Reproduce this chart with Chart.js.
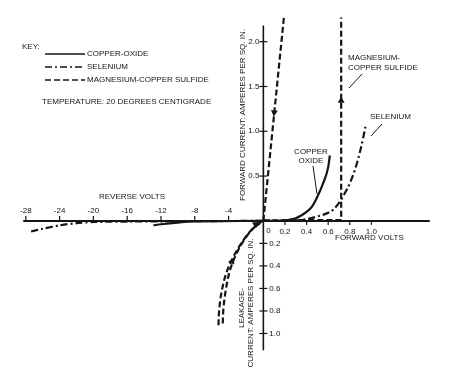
<!DOCTYPE html>
<html><head><meta charset="utf-8">
<script src="https://cdn.jsdelivr.net/npm/chart.js@4.4.1/dist/chart.umd.min.js"></script>
<style>html,body{margin:0;padding:0;background:#fff;}canvas{display:block}</style>
</head><body>
<canvas id="c" width="455" height="383"></canvas>
<script>
// ---------- data ----------
const copperOxideFwdVolts   = [0, 0.15, 0.2, 0.25, 0.3, 0.35, 0.4, 0.45, 0.5, 0.55, 0.6, 0.615];
const copperOxideFwdCurrent = [0, 0, 0.005, 0.015, 0.03, 0.06, 0.1, 0.16, 0.27, 0.41, 0.6, 0.73];
const copperOxideRevVolts   = [0, -8, -10, -12, -12.9];
const copperOxideRevLeakage = [0, 0.005, 0.015, 0.03, 0.04];

const seleniumFwdVolts   = [0, 0.2, 0.3, 0.4, 0.5, 0.6, 0.65, 0.7, 0.75, 0.8, 0.85, 0.9, 0.945];
const seleniumFwdCurrent = [0, 0, 0.005, 0.02, 0.05, 0.09, 0.13, 0.2, 0.3, 0.42, 0.58, 0.8, 1.05];
const seleniumRevVolts   = [0, -10, -16, -20, -22, -24, -26, -27.7];
const seleniumRevLeakage = [0, 0.003, 0.006, 0.01, 0.02, 0.04, 0.07, 0.1];

const mgSteepVolts   = [0, 0.19];
const mgSteepCurrent = [0, 2.27];
const mgFwdVolts     = [0, 0.72, 0.72];
const mgFwdCurrent   = [0.005, 0.01, 2.27];
const mgRevOuterVolts   = [-0.3, -1.4, -2.5, -3.5, -4.3, -4.8, -5.1, -5.2];
const mgRevOuterLeakage = [0.02, 0.09, 0.2, 0.33, 0.47, 0.62, 0.78, 0.93];
const mgRevInnerVolts   = [0, -1.0, -2.0, -3.0, -3.8, -4.3, -4.6, -4.7];
const mgRevInnerLeakage = [0, 0.06, 0.15, 0.28, 0.43, 0.6, 0.77, 0.93];

// arrow heads on the magnesium-copper sulfide traces
const arrowFwdVolts = [0.1, 0.72];
const arrowFwdCurrent = [1.21, 1.34];
const arrowFwdAngle = [186, 0];
const arrowRevVolts = [-3.6, -0.8];
const arrowRevLeakage = [0.36, 0.03];
const arrowRevAngle = [23, 55];

// tick labels
const reverseVoltTicks = [-28, -24, -20, -16, -12, -8, -4];
const forwardVoltTicks = [0.2, 0.4, 0.6, 0.8, 1.0];
const forwardCurrentTicks = [0.5, 1.0, 1.5, 2.0];
const leakageTicks = [0.2, 0.4, 0.6, 0.8, 1.0];

// axis extents
const REV_VOLT_END = -28.3, FWD_VOLT_END = 1.54, FWD_CURRENT_END = 2.18, LEAKAGE_END = 1.15;

const legendItems = ['COPPER-OXIDE', 'SELENIUM', 'MAGNESIUM-COPPER SULFIDE'];

// ---------- helpers ----------
const pts = (xs, ys) => xs.map((x, i) => ({x, y: ys[i]}));
const INK = '#151515';
const SOLID = [];
const DASHDOT = [7, 3, 2, 3];
const DASH = [6, 3];

function line(data, dash, xAxisID, yAxisID, extra) {
  return Object.assign({
    data, borderColor: INK, borderWidth: 2.2, borderDash: dash, pointRadius: 0,
    showLine: true, fill: false, xAxisID, yAxisID, tension: 0
  }, extra || {});
}

const FONT = '8px "Liberation Sans", Arial, sans-serif';

const drawPlugin = {
  id: 'manual',
  beforeDatasetsDraw(chart) {
    const {ctx, scales} = chart;
    const {xF, xR, yF, yL} = scales;
    const ox = xF.getPixelForValue(0), oy = yF.getPixelForValue(0);
    ctx.save();
    ctx.strokeStyle = INK; ctx.fillStyle = INK;
    ctx.lineWidth = 2;
    ctx.beginPath();
    ctx.moveTo(xR.getPixelForValue(REV_VOLT_END), oy);
    ctx.lineTo(xF.getPixelForValue(FWD_VOLT_END), oy);
    ctx.stroke();
    ctx.lineWidth = 1.6;
    ctx.beginPath();
    ctx.moveTo(ox, yF.getPixelForValue(FWD_CURRENT_END));
    ctx.lineTo(ox, yL.getPixelForValue(LEAKAGE_END));
    ctx.stroke();
    // ticks
    ctx.lineWidth = 1.2;
    ctx.font = FONT;
    ctx.textBaseline = 'middle';
    ctx.textAlign = 'center';
    reverseVoltTicks.forEach(v => {
      const x = xR.getPixelForValue(v);
      ctx.beginPath(); ctx.moveTo(x, oy - 5); ctx.lineTo(x, oy); ctx.stroke();
      ctx.fillText(String(v), x, oy - 10);
    });
    forwardVoltTicks.forEach(v => {
      const x = xF.getPixelForValue(v);
      ctx.beginPath(); ctx.moveTo(x, oy); ctx.lineTo(x, oy + 4); ctx.stroke();
      ctx.fillText(v.toFixed(1), x, oy + 11);
    });
    ctx.fillText('0', ox + 5, oy + 10);
    ctx.textAlign = 'right';
    forwardCurrentTicks.forEach(v => {
      const y = yF.getPixelForValue(v);
      ctx.beginPath(); ctx.moveTo(ox - 4, y); ctx.lineTo(ox + 4, y); ctx.stroke();
      ctx.fillText(v.toFixed(1), ox - 4, y);
    });
    ctx.textAlign = 'left';
    leakageTicks.forEach(v => {
      const y = yL.getPixelForValue(v);
      ctx.beginPath(); ctx.moveTo(ox - 4, y); ctx.lineTo(ox + 4, y); ctx.stroke();
      ctx.fillText(v.toFixed(1), ox + 6, y);
    });
    ctx.restore();
  },
  afterDraw(chart) {
    const {ctx} = chart;
    ctx.save();
    ctx.fillStyle = INK; ctx.strokeStyle = INK;
    ctx.font = FONT;
    ctx.textBaseline = 'middle';
    // axis titles
    ctx.textAlign = 'center';
    ctx.fillText('REVERSE VOLTS', 132, 197);
    ctx.textAlign = 'left';
    ctx.fillText('FORWARD VOLTS', 335, 238);
    const vtext = (t, x, y) => { ctx.save(); ctx.translate(x, y); ctx.rotate(-Math.PI / 2); ctx.textAlign = 'center'; ctx.fillText(t, 0, 0); ctx.restore(); };
    vtext('FORWARD CURRENT: AMPERES PER SQ. IN.', 242.5, 115);
    vtext('LEAKAGE-', 242, 308);
    vtext('CURRENT: AMPERES PER SQ. IN.', 251, 303);
    // annotations
    ctx.textAlign = 'center';
    ctx.fillText('COPPER', 311, 152);
    ctx.fillText('OXIDE', 311, 161);
    ctx.textAlign = 'left';
    ctx.fillText('MAGNESIUM-', 348, 58);
    ctx.fillText('COPPER SULFIDE', 348, 68);
    ctx.fillText('SELENIUM', 370, 117);
    ctx.lineWidth = 1;
    [[313,166,317,194],[362,74,349,88],[382,124,371,136]].forEach(([a,b,c,d]) => {
      ctx.beginPath(); ctx.moveTo(a,b); ctx.lineTo(c,d); ctx.stroke();
    });
    // key
    ctx.fillText('KEY:', 22, 47);
    const dashes = [SOLID, DASHDOT, DASH];
    legendItems.forEach((t, i) => {
      const y = 54 + i * 13;
      ctx.save(); ctx.lineWidth = 1.5; ctx.setLineDash(dashes[i]);
      ctx.beginPath(); ctx.moveTo(45, y); ctx.lineTo(85, y); ctx.stroke(); ctx.restore();
      ctx.fillText(t, 87, y);
    });
    ctx.fillText('TEMPERATURE: 20 DEGREES CENTIGRADE', 42, 102);
    ctx.restore();
  }
};

new Chart(document.getElementById('c'), {
  type: 'scatter',
  data: {
    datasets: [
      line(pts(copperOxideFwdVolts, copperOxideFwdCurrent), SOLID, 'xF', 'yF', {cubicInterpolationMode: 'monotone', label: 'COPPER-OXIDE'}),
      line(pts(copperOxideRevVolts, copperOxideRevLeakage), SOLID, 'xR', 'yL', {tension: 0.3}),
      line(pts(seleniumFwdVolts, seleniumFwdCurrent), DASHDOT, 'xF', 'yF', {cubicInterpolationMode: 'monotone', label: 'SELENIUM'}),
      line(pts(seleniumRevVolts, seleniumRevLeakage), DASHDOT, 'xR', 'yL', {tension: 0.3}),
      line(pts(mgSteepVolts, mgSteepCurrent), DASH, 'xF', 'yF', {label: 'MAGNESIUM-COPPER SULFIDE'}),
      line(pts(mgFwdVolts, mgFwdCurrent), DASH, 'xF', 'yF'),
      line(pts(mgRevOuterVolts, mgRevOuterLeakage), DASH, 'xR', 'yL', {tension: 0.35}),
      line(pts(mgRevInnerVolts, mgRevInnerLeakage), DASH, 'xR', 'yL', {tension: 0.35}),
      {data: pts(arrowFwdVolts, arrowFwdCurrent), xAxisID: 'xF', yAxisID: 'yF', showLine: false,
       pointStyle: 'triangle', pointRadius: 4, pointRotation: arrowFwdAngle, backgroundColor: INK, borderColor: INK, borderWidth: 0},
      {data: pts(arrowRevVolts, arrowRevLeakage), xAxisID: 'xR', yAxisID: 'yL', showLine: false,
       pointStyle: 'triangle', pointRadius: 4, pointRotation: arrowRevAngle, backgroundColor: INK, borderColor: INK, borderWidth: 0}
    ]
  },
  options: {
    responsive: false, animation: false, devicePixelRatio: 1,
    layout: {padding: 0},
    plugins: {legend: {display: false}, tooltip: {enabled: false}, title: {display: false}},
    elements: {line: {borderCapStyle: 'butt'}},
    scales: {
      xF: {type: 'linear', axis: 'x', display: false, min: -2.4, max: 1.73636},
      xR: {type: 'linear', axis: 'x', display: false, min: -30.5814, max: 22.3256},
      yF: {type: 'linear', axis: 'y', display: false, min: -1.7650, max: 2.4208},
      yL: {type: 'linear', axis: 'y', display: false, reverse: true, min: -1.9261, max: 1.4043}
    }
  },
  plugins: [drawPlugin]
});
</script>
</body></html>
